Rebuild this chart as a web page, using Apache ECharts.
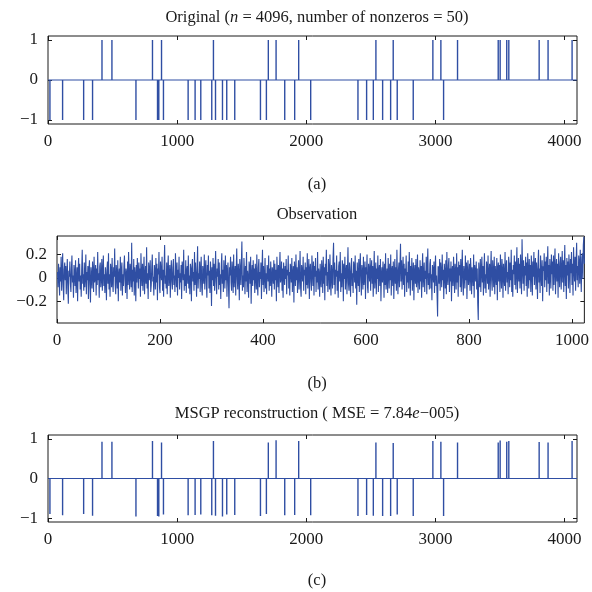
<!DOCTYPE html>
<html>
<head>
<meta charset="utf-8">
<script src="https://cdn.jsdelivr.net/npm/echarts@6/dist/echarts.min.js"></script>
<style>html,body{margin:0;padding:0;background:#fff}#c{width:592px;height:592px}</style>
</head>
<body>
<div id="c"></div>
<script>
// ---- data ----
const signalLength = 4096;
const spikePositions = [15,113,276,345,418,495,681,809,848,858,879,894,1085,1139,1183,1268,1281,1297,1351,1384,1446,1645,1691,1706,1766,1833,1910,1941,2034,2400,2467,2519,2539,2591,2653,2673,2704,2828,2980,3042,3063,3171,3486,3501,3552,3568,3803,3872,4058];
const originalValues = [-1,-1,-1,-1,1,1,-1,1,-1,-1,1,-1,-1,-1,-1,-1,1,-1,-1,-1,-1,-1,-1,1,1,-1,-1,1,-1,-1,-1,-1,1,-1,-1,1,-1,-1,1,1,-1,1,1,1,1,1,1,1,1];
const reconValues = [-0.90,-0.93,-0.90,-0.94,0.93,0.93,-0.96,0.95,-0.95,-0.96,0.91,-0.91,-0.93,-0.92,-0.91,-0.93,0.95,-0.94,-0.96,-0.91,-0.92,-0.95,-0.90,0.91,0.97,-0.93,-0.92,0.95,-0.93,-0.95,-0.92,-0.94,0.91,-0.95,-0.95,0.90,-0.91,-0.95,0.95,0.93,-0.95,0.91,0.91,0.96,0.93,0.95,0.92,0.91,0.95];
const observation = [
.05,-.08,.12,.02,-.15,.09,-.03,.18,-.11,.04,.21,-.06,-.19,.07,.13,-.02,.10,-.14,.03,.16,-.09,-.22,.06,.01,.14,-.05,-.12,.08,.19,-.04,.02,-.17,
.11,.04,-.07,.15,-.13,-.01,.09,-.20,.06,.17,-.03,.12,-.10,.02,-.16,.08,.24,-.05,.03,-.11,.13,-.08,.01,.20,-.14,.05,-.02,.10,-.18,.07,.15,-.06,
-.21,.09,.02,-.09,.14,.06,-.12,.18,-.04,.01,.11,-.15,.08,-.06,.22,-.02,.04,-.17,.10,.13,-.08,-.01,.16,-.11,.05,.19,-.07,.03,-.13,.09,.00,-.19,
.07,.14,-.05,.21,-.10,.03,-.16,.12,.06,-.08,.17,-.03,-.12,.09,.01,.25,-.06,-.14,.11,.04,-.09,.15,-.20,.02,.08,-.04,.18,-.11,.06,.13,-.15,.03,
-.07,.10,.19,-.02,-.13,.08,.04,-.18,.14,-.06,.22,.01,-.10,.12,.05,-.08,.30,-.12,.07,-.03,.16,-.15,.09,.02,-.20,.11,-.04,.17,.06,-.09,.13,-.01,
.08,-.16,.21,.03,-.07,.12,-.11,.05,.18,-.14,.02,.10,-.05,.26,-.09,.04,-.18,.13,.07,-.02,.15,-.12,-.06,.09,.20,-.03,.01,-.15,.11,.06,-.10,.17,
-.04,.12,-.19,.08,.03,.22,-.08,-.13,.14,.05,-.02,.18,-.11,.07,-.16,.10,.28,-.05,.02,-.09,.13,-.14,.06,.19,-.07,.01,.11,-.17,.04,.15,-.03,-.10,
.09,.16,-.06,.02,-.12,.21,.05,-.08,.13,-.15,.07,.00,.18,-.10,.04,-.04,.11,-.18,.14,.08,-.02,.24,-.11,.03,-.07,.15,-.13,.06,.10,-.05,.19,-.09,
.02,-.14,.12,.07,-.20,.09,.16,-.03,.05,-.11,.22,-.06,.13,.01,-.16,.08,.27,-.09,.04,-.01,.14,-.12,.06,.18,-.08,-.15,.10,.03,-.05,.20,-.10,.07,
.15,-.04,-.17,.11,.02,.19,-.09,.06,-.13,.14,.04,-.24,.09,-.02,.17,-.07,.12,-.11,.05,.23,-.03,-.14,.08,.01,.16,-.10,.13,-.06,.03,-.18,.10,.21,
-.05,.07,-.12,.15,.04,-.09,.19,-.02,.11,-.16,.06,.13,-.07,-.26,.09,.02,.18,-.04,-.11,.14,.05,-.13,.20,-.08,.03,.10,-.15,.07,.25,-.01,-.10,.12,
.04,-.19,.16,.08,-.06,.13,.31,-.11,.02,-.08,.17,.05,-.14,.10,-.03,.22,-.12,.06,.01,-.17,.14,.09,-.05,.18,-.22,.03,.11,-.07,.15,-.02,.08,-.13,
.12,.03,-.10,.20,-.04,-.15,.09,.16,-.08,.05,-.01,.13,-.18,.07,.24,-.06,.10,-.12,.02,.17,-.09,.04,-.14,.11,.06,-.03,.19,-.11,.08,-.07,.14,.01,
-.16,.09,.05,-.05,.15,-.10,.12,-.02,.07,-.20,.18,.03,-.08,.11,-.13,.06,.22,-.04,.00,.14,-.11,.08,-.17,.13,.04,-.06,.10,-.01,.16,-.14,.07,.02,
.19,-.09,.05,-.15,.12,.08,-.04,.17,-.12,.03,.10,-.21,.14,.06,-.07,.20,-.02,.09,-.13,.04,.15,-.10,.01,.23,-.08,-.16,.11,.05,-.03,.18,-.11,.07,
.02,.13,-.14,.09,-.06,.21,-.09,.04,.16,-.18,.07,.12,-.03,-.11,.19,.05,-.07,.14,-.15,.10,.01,.17,-.12,.06,-.04,.22,-.10,.08,.03,-.16,.12,-.02,
-.08,.15,.06,-.13,.18,-.05,.09,-.19,.12,.02,.24,-.07,.05,-.12,.16,.08,-.10,.20,-.04,-.15,.11,.03,-.09,.17,.30,-.06,.13,-.14,.07,.01,.19,-.11,
.06,-.17,.10,.14,-.03,.22,-.12,.04,-.08,.15,.09,-.20,.12,-.01,.18,-.10,.05,.11,-.14,.07,.26,-.05,-.11,.13,.02,-.16,.09,.17,-.07,.04,-.13,.14,
.10,-.04,.19,-.09,.06,-.23,.13,.03,-.07,.16,-.12,.08,.21,-.02,-.15,.11,.05,-.10,.18,-.06,.01,.14,-.18,.09,.03,.20,-.08,-.13,.12,.06,-.03,.17,
-.11,.07,.15,-.05,.10,-.16,.04,.23,-.09,.02,.13,-.14,.08,-.01,.19,-.12,.06,.11,-.07,.16,-.20,.03,.09,-.04,.14,.05,-.17,.12,-.06,.21,-.10,.00,
.08,-.13,.17,.04,-.09,.12,-.02,.20,-.15,.06,.10,-.07,.14,-.18,.03,.16,-.05,.09,-.11,.24,.02,-.14,.07,.13,-.08,.11,.29,-.03,.15,-.10,.05,.18,
-.06,.12,-.16,.08,.02,.19,-.12,.05,-.04,.14,-.09,.22,.07,-.15,.10,-.02,.17,-.11,.03,.13,-.19,.06,.11,-.05,.16,-.08,.01,.20,-.13,.09,.04,-.10,
.15,-.03,.10,-.17,.07,.21,-.08,.02,.13,-.12,.06,-.01,.18,-.14,.09,.25,-.06,.04,-.10,.12,.16,-.09,.03,-.19,.11,.07,-.04,.14,-.13,.05,.19,-.07,
.02,-.15,-.33,.10,.08,-.05,.16,-.11,.13,.04,-.08,.20,-.02,.07,-.18,.12,.05,-.09,.15,-.14,.22,.01,-.06,.11,.17,-.12,.08,-.03,.14,-.20,.06,.10,
-.07,.18,.03,-.13,.12,.05,-.10,.21,-.04,.09,-.16,.14,.02,.11,-.08,.16,-.12,.06,.24,-.05,-.15,.10,.04,-.09,.19,-.02,.13,-.18,.07,.15,-.06,.01,
.12,-.11,.17,.06,-.14,.09,.03,-.07,.20,-.17,.11,.05,-.03,.14,-.10,.08,-.22,-.36,.13,.02,-.08,.16,-.12,.07,.18,-.04,.10,-.15,.06,.21,-.09,.03,
-.13,.14,.09,-.05,.19,-.10,.04,.12,-.16,.07,.23,-.02,-.11,.15,.05,-.08,.18,-.14,.10,.01,-.06,.17,-.19,.08,.13,-.03,.11,-.12,.20,.04,-.09,.16,
.06,-.17,.12,.02,-.07,.22,-.11,.09,.15,-.04,.05,-.14,.18,.10,-.08,.13,-.02,.24,-.12,.07,-.16,.11,.03,.19,-.06,.14,-.10,.08,.26,-.13,.05,.17,
-.03,.12,-.09,.20,.06,-.14,.33,.08,-.05,.15,-.11,.10,.02,.18,-.07,.13,-.16,.21,.04,-.09,.16,-.02,.11,-.12,.19,.07,-.15,.14,.01,.22,-.06,.09,
.17,-.10,.13,.05,-.18,.12,.24,-.04,.08,-.13,.19,.03,-.07,.15,-.20,.10,.06,.21,-.08,.14,-.02,.18,-.12,.09,.27,-.05,.11,-.15,.16,.04,-.09,.20,
.03,.14,-.11,.19,-.06,.10,.25,-.14,.07,.16,-.03,.12,-.17,.21,.05,-.08,.13,.18,-.10,.06,.23,-.04,.15,-.12,.09,.28,-.07,.11,-.18,.17,.02,.14,
-.09,.20,.07,-.13,.16,.04,.22,-.06,.12,-.15,.26,.09,-.03,.18,-.11,.14,.30,-.02,.10,-.08,.19,.13,-.05,.24,.06,-.12,.17,.21,-.01,.28,.35,.12
];
const xTicksSparse = [0,1000,2000,3000,4000];
const xTicksObs = [0,200,400,600,800,1000];
const yTicksSparse = [-1,0,1];
const yTicksObs = [-0.2,0,0.2];

// ---- build ----
// zero baseline of the sparse vector
const baseline = [[1,0],[signalLength,0]];
// one separate vertical stroke per nonzero sample (broken by null points)
function spikeSegments(vals){
  const pts = [];
  spikePositions.forEach((p,k)=>{ pts.push([p,0],[p,vals[k]],[p,null]); });
  return pts;
}
const FONT = 'Liberation Serif';
const INK = '#1a1a1a';
const BLUE = '#2f4ea3';
const fmt = v => String(v).replace('-', '\u2212');

const grids = [
  {left:48, right:15, top:36, height:88},
  {left:57, right:6, top:236, height:87},
  {left:48, right:15, top:435, height:87}
].map(g=>Object.assign(g,{show:true,borderColor:INK,borderWidth:1,backgroundColor:'transparent'}));

function xAx(gi,max,ticks,pos,labels){
  return {type:'value',gridIndex:gi,min:0,max:max,position:pos,
    axisLine:{show:false,onZero:false},splitLine:{show:false},
    axisTick:{show:true,inside:true,length:4,customValues:ticks,lineStyle:{color:INK,width:1}},
    axisLabel:{show:labels,customValues:ticks,margin:9,fontFamily:FONT,fontSize:17,color:INK,formatter:fmt}};
}
function yAx(gi,min,max,ticks,pos,labels){
  return {type:'value',gridIndex:gi,min:min,max:max,position:pos,
    axisLine:{show:false,onZero:false},splitLine:{show:false},
    axisTick:{show:true,inside:true,length:4,customValues:ticks,lineStyle:{color:INK,width:1}},
    axisLabel:{show:labels,customValues:ticks,margin:10,fontFamily:FONT,fontSize:17,color:INK,formatter:fmt}};
}
const xAxis = [
  xAx(0,4096,xTicksSparse,'bottom',true), xAx(0,4096,xTicksSparse,'top',false),
  xAx(1,1024,xTicksObs,'bottom',true), xAx(1,1024,xTicksObs,'top',false),
  xAx(2,4096,xTicksSparse,'bottom',true), xAx(2,4096,xTicksSparse,'top',false)
];
const yAxis = [
  yAx(0,-1.1,1.1,yTicksSparse,'left',true), yAx(0,-1.1,1.1,yTicksSparse,'right',false),
  yAx(1,-0.385,0.357,yTicksObs,'left',true), yAx(1,-0.385,0.357,yTicksObs,'right',false),
  yAx(2,-1.1,1.1,yTicksSparse,'left',true), yAx(2,-1.1,1.1,yTicksSparse,'right',false)
];
function L(xi,yi,data,w){
  return {type:'line',xAxisIndex:xi,yAxisIndex:yi,data:data,showSymbol:false,symbol:'none',
    connectNulls:false,animation:false,silent:true,
    lineStyle:{color:BLUE,width:w},itemStyle:{color:BLUE}};
}
const series = [
  L(0,0,baseline,1.2), L(0,0,spikeSegments(originalValues),1.4),
  L(2,2,observation.map((y,i)=>[i+1,y]),1.1),
  L(4,4,baseline,1.2), L(4,4,spikeSegments(reconValues),1.4)
];
const rich = {r:{fontFamily:FONT,fontSize:16.5,color:INK},i:{fontFamily:FONT,fontSize:16.5,fontStyle:'italic',color:INK}};
function T(text,x,y){return {text:text,left:x,top:y,textAlign:'center',textStyle:{fontFamily:FONT,fontSize:16.5,color:INK,fontWeight:'normal',rich:rich}};}
const title = [
  T('{r|Original (}{i|n}{r| = 4096, number of nonzeros = 50)}',312,4),
  T('{r|(a)}',312,171),
  T('{r|Observation}',312,201),
  T('{r|(b)}',312,370),
  T('{r|MSGP reconstruction ( MSE = 7.84}{i|e}{r|\u2212005)}',312,400),
  T('{r|(c)}',312,567)
];
const chart = echarts.init(document.getElementById('c'),null,{renderer:'canvas'});
chart.setOption({animation:false,backgroundColor:'#fff',title:title,grid:grids,xAxis:xAxis,yAxis:yAxis,series:series});
</script>
</body>
</html>
